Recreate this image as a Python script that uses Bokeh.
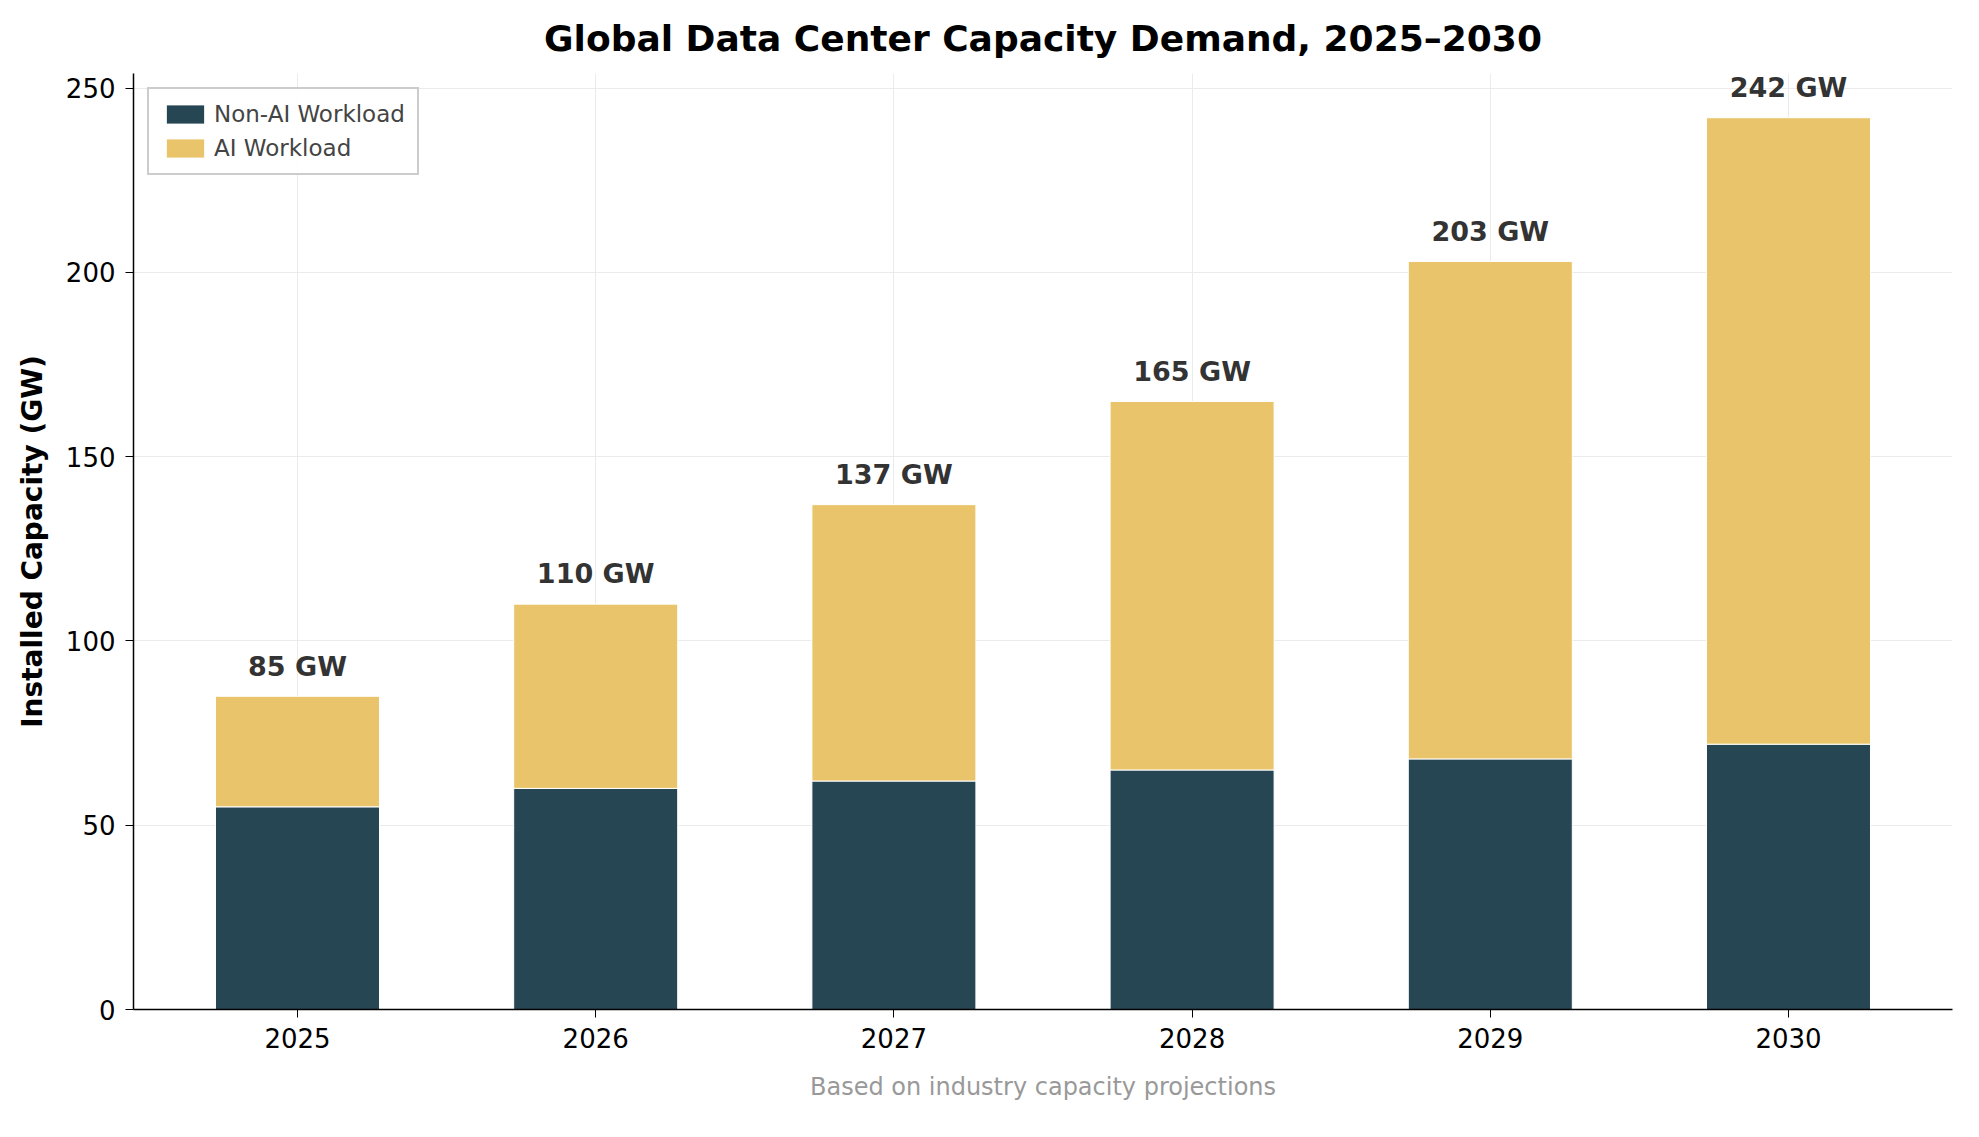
from bokeh.plotting import figure
from bokeh.models import ColumnDataSource, Legend, LegendItem, Title, Range1d, FixedTicker, LabelSet
from bokeh.core.properties import value
from bokeh.embed import file_html
from bokeh.resources import INLINE

years = ["2025", "2026", "2027", "2028", "2029", "2030"]
non_ai = [55, 60, 62, 65, 68, 72]
ai = [30, 50, 75, 100, 135, 170]
totals = [a + b for a, b in zip(non_ai, ai)]
labels = [f"{t} GW" for t in totals]

x = list(range(len(years)))
src = ColumnDataSource(dict(x=x, non_ai=non_ai, ai=ai, total=totals, lab=labels,
                            ly=[t + 4 for t in totals]))

F = "DejaVu Sans"
p = figure(width=1960, height=1120, output_backend="svg", toolbar_location=None,
           x_range=Range1d(-0.55, 5.55), y_range=Range1d(0, 254),
           min_border_left=133, min_border_right=8, min_border_top=40, min_border_bottom=50)
p.title.text = "Global Data Center Capacity Demand, 2025–2030"
p.title.align = "center"
p.title.text_font = F
p.title.text_font_size = "36px"
p.title.text_font_style = "bold"
p.title.text_color = "black"
p.title.offset = 0
p.title.standoff = 30

r1 = p.vbar(x="x", top="non_ai", bottom=0, width=0.55, source=src,
            fill_color="#264653", line_color="white", line_width=1)
r2 = p.vbar(x="x", top="total", bottom="non_ai", width=0.55, source=src,
            fill_color="#E9C46A", line_color="white", line_width=1)

p.add_layout(LabelSet(x="x", y="ly", text="lab", source=src, text_align="center",
                      text_baseline="bottom", text_font=value(F), text_font_size="27px",
                      text_font_style="bold", text_color="#333333"))

p.xaxis.ticker = FixedTicker(ticks=x)
p.xaxis.major_label_overrides = {i: y for i, y in enumerate(years)}
p.yaxis.ticker = FixedTicker(ticks=[0, 50, 100, 150, 200, 250])
for ax in (p.xaxis, p.yaxis):
    ax.major_label_text_font = F
    ax.major_label_text_font_size = "26px"
    ax.major_label_text_color = "black"
    ax.minor_tick_line_color = None
    ax.axis_line_color = "black"
    ax.axis_line_width = 1.5
    ax.major_tick_line_color = "black"
    ax.major_tick_in = 0
    ax.major_tick_out = 8
    ax.major_label_standoff = 10
p.yaxis.axis_label = "Installed Capacity (GW)"
p.yaxis.axis_label_text_font = F
p.yaxis.axis_label_text_font_size = "28px"
p.yaxis.axis_label_text_font_style = "bold"
p.yaxis.axis_label_text_color = "black"
p.yaxis.axis_label_standoff = 14

p.outline_line_color = None
p.xgrid.grid_line_color = "#ebebeb"
p.ygrid.grid_line_color = "#ebebeb"
p.xgrid.ticker = FixedTicker(ticks=x)

leg = Legend(items=[LegendItem(label="Non-AI Workload", renderers=[r1]),
                    LegendItem(label="AI Workload", renderers=[r2])],
             location="top_left", label_text_font=F, label_text_font_size="23px",
             border_line_color="#cccccc", border_line_width=2, border_line_alpha=1,
             glyph_width=48, glyph_height=24, spacing=8, padding=12, margin=14,
             background_fill_alpha=0.9)
p.add_layout(leg)

foot = Title(text="Based on industry capacity projections", align="center",
             text_font=F, text_font_size="24px", text_font_style="normal",
             text_color="#999999", standoff=40)
p.add_layout(foot, "below")

open("out.html", "w").write(file_html(p, INLINE))
